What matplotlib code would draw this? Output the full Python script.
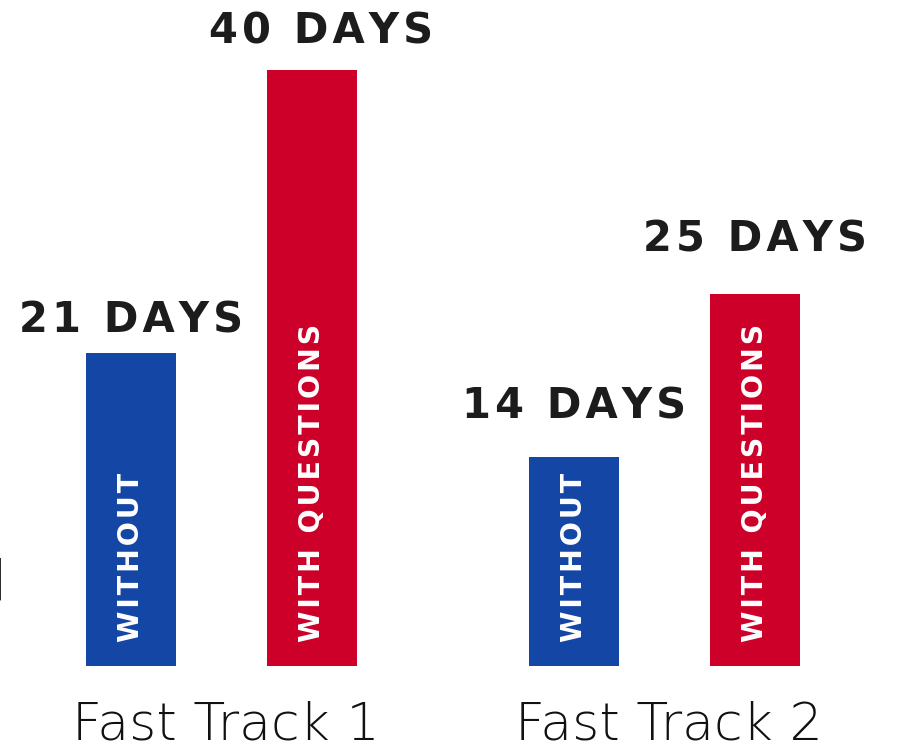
import matplotlib
matplotlib.use("Agg")
import matplotlib.pyplot as plt

# data
groups = ["Fast Track 1", "Fast Track 2"]
series = ["WITHOUT", "WITH QUESTIONS"]
days = [[21, 14], [40, 25]]          # days[series][group]
colors = ["#1446a5", "#cc0029"]
# gap (px) between bar top and its "xx DAYS" label, and a small x nudge (px)
label_gap = [[21, 39], [27, 42]]
label_dx = [[0, 0], [9, 0]]

HS = "\u200a"  # hair space, used for letter spacing


def spaced(s):
    return HS.join(s)


W, H, DPI = 899, 746, 100
fig = plt.figure(figsize=(W / DPI, H / DPI), dpi=DPI)
ax = fig.add_axes([0, 80 / H, 1, 596 / H])
ax.set_xlim(-221 / 443, (W - 221) / 443)
ax.set_ylim(0, 40)
ax.axis("off")

px = 72 / DPI  # points per pixel
offsets = [-0.203, 0.205]
width = 0.203

for i, name in enumerate(series):
    xs = [g + offsets[i] for g in range(len(groups))]
    ax.bar(xs, days[i], width=width, color=colors[i], linewidth=0)
    for j, x in enumerate(xs):
        ax.annotate(spaced(f"{days[i][j]} DAYS"), (x, days[i][j]),
                    xytext=(label_dx[i][j] * px, label_gap[i][j] * px),
                    textcoords="offset points",
                    ha="center", va="baseline", fontsize=30,
                    fontweight="bold", color="#1c1c1c", family="DejaVu Sans")
        ax.annotate(spaced(name), (x, 0), xytext=(0, 24 * px),
                    textcoords="offset points", rotation=90,
                    ha="center", va="bottom", fontsize=20.5,
                    fontweight="bold", color="white", family="DejaVu Sans")

for j, g in enumerate(groups):
    ax.annotate(g, (j + 0.011, 0), xytext=(0, -74 * px),
                textcoords="offset points", ha="center", va="baseline",
                fontsize=37.5, fontweight=200, color="#111111",
                family="DejaVu Sans", annotation_clip=False)

# cut-off text at the left edge
fig.text(7 / W, (H - 600) / H, "d", ha="right", va="baseline",
         fontsize=40, fontweight=200, color="#111111", family="DejaVu Sans")

fig.savefig("out.png", dpi=DPI)
